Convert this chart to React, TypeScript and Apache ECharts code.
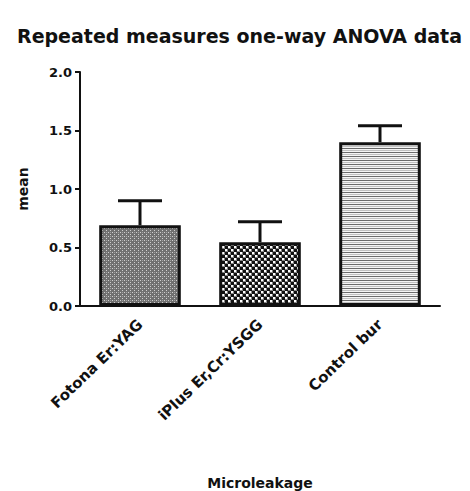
import React, { useEffect, useRef } from "react";
import * as echarts from "echarts";

const categories = ["Fotona Er:YAG", "iPlus Er,Cr:YSGG", "Control bur"];
const means = [0.69, 0.545, 1.4];
const upperErr = [0.9, 0.72, 1.54];
const yTicks = [0, 0.5, 1.0, 1.5, 2.0];

function makeTile(kind: number) {
  const c = document.createElement("canvas");
  const s = kind === 1 ? 6 : 4;
  c.width = s;
  c.height = s;
  const ctx = c.getContext("2d")!;
  if (kind === 0) {
    ctx.fillStyle = "#707070";
    ctx.fillRect(0, 0, s, s);
    ctx.fillStyle = "#cfcfcf";
    ctx.fillRect(0, 0, 1, 1);
    ctx.fillRect(2, 2, 1, 1);
    ctx.fillStyle = "#a0a0a0";
    ctx.fillRect(2, 0, 1, 1);
  } else if (kind === 1) {
    ctx.fillStyle = "#111";
    ctx.fillRect(0, 0, s, s);
    ctx.fillStyle = "#888";
    ctx.fillRect(0, 0, 3, 3);
    ctx.fillRect(3, 3, 3, 3);
    ctx.fillStyle = "#fff";
    ctx.fillRect(0, 0, 2, 2);
    ctx.fillRect(3, 3, 2, 2);
  } else {
    ctx.fillStyle = "#f4f4f4";
    ctx.fillRect(0, 0, s, s);
    ctx.fillStyle = "#6a6a6a";
    ctx.fillRect(0, 0, s, 1);
    ctx.fillStyle = "#c0c0c0";
    ctx.fillRect(0, 2, s, 1);
  }
  return { image: c.toDataURL(), repeat: "repeat", imageWidth: s, imageHeight: s } as any;
}

export default function App() {
  const ref = useRef<HTMLDivElement>(null);
  useEffect(() => {
    const chart = echarts.init(ref.current!, null, { renderer: "svg" });
    const patterns = [makeTile(0), makeTile(1), makeTile(2)];
    const font = "DejaVu Sans, sans-serif";
    chart.setOption({
      animation: false,
      backgroundColor: "#fff",
      textStyle: { fontFamily: font },
      title: {
        text: "Repeated measures one-way ANOVA data",
        left: 12,
        top: 21,
        textStyle: { fontSize: 19, fontWeight: "bold", color: "#111", fontFamily: font },
      },
      grid: { left: 80, right: 30, top: 72, bottom: 180 },
      xAxis: {
        type: "category",
        data: categories,
        name: "Microleakage",
        nameLocation: "middle",
        nameGap: 170,
        nameTextStyle: { fontSize: 14, fontWeight: "bold", color: "#111", fontFamily: font },
        axisLine: { lineStyle: { color: "#111", width: 2 } },
        axisTick: { alignWithLabel: true, length: 5, lineStyle: { width: 2, color: "#111" } },
        axisLabel: { rotate: 44, fontSize: 15, fontWeight: "bold", color: "#111", margin: 16, fontFamily: font },
      },
      yAxis: {
        type: "value",
        min: yTicks[0],
        max: yTicks[yTicks.length - 1],
        interval: 0.5,
        name: "mean",
        nameLocation: "middle",
        nameGap: 50,
        nameTextStyle: { fontSize: 14, fontWeight: "bold", color: "#111", fontFamily: font },
        axisLine: { show: true, lineStyle: { color: "#111", width: 2 } },
        axisTick: { show: true, length: 5, lineStyle: { width: 2, color: "#111" } },
        splitLine: { show: false },
        axisLabel: {
          fontSize: 13,
          fontWeight: "bold",
          color: "#111",
          margin: 8,
          fontFamily: font,
          formatter: (v: number) => v.toFixed(1),
        },
      },
      series: [
        {
          type: "custom",
          z: 1,
          data: categories.map((_, i) => [i, means[i], upperErr[i]]),
          renderItem: (params: any, api: any) => {
            const x = api.value(0);
            const b = api.coord([x, api.value(1)]);
            const t = api.coord([x, api.value(2)]);
            const hw = 22;
            return {
              type: "group",
              children: [
                { type: "line", shape: { x1: b[0], y1: b[1], x2: t[0], y2: t[1] }, style: { stroke: "#111", lineWidth: 3 } },
                { type: "line", shape: { x1: t[0] - hw, y1: t[1], x2: t[0] + hw, y2: t[1] }, style: { stroke: "#111", lineWidth: 3 } },
              ],
            };
          },
        },
        {
          type: "bar",
          z: 2,
          barWidth: "68%",
          data: means.map((v, i) => ({
            value: v,
            itemStyle: { color: patterns[i], borderColor: "#111", borderWidth: 3 },
          })),
        },
      ],
    });
    return () => chart.dispose();
  }, []);
  return <div ref={ref} style={{ width: 470, height: 491, marginLeft: -8, marginTop: -8 }} />;
}
